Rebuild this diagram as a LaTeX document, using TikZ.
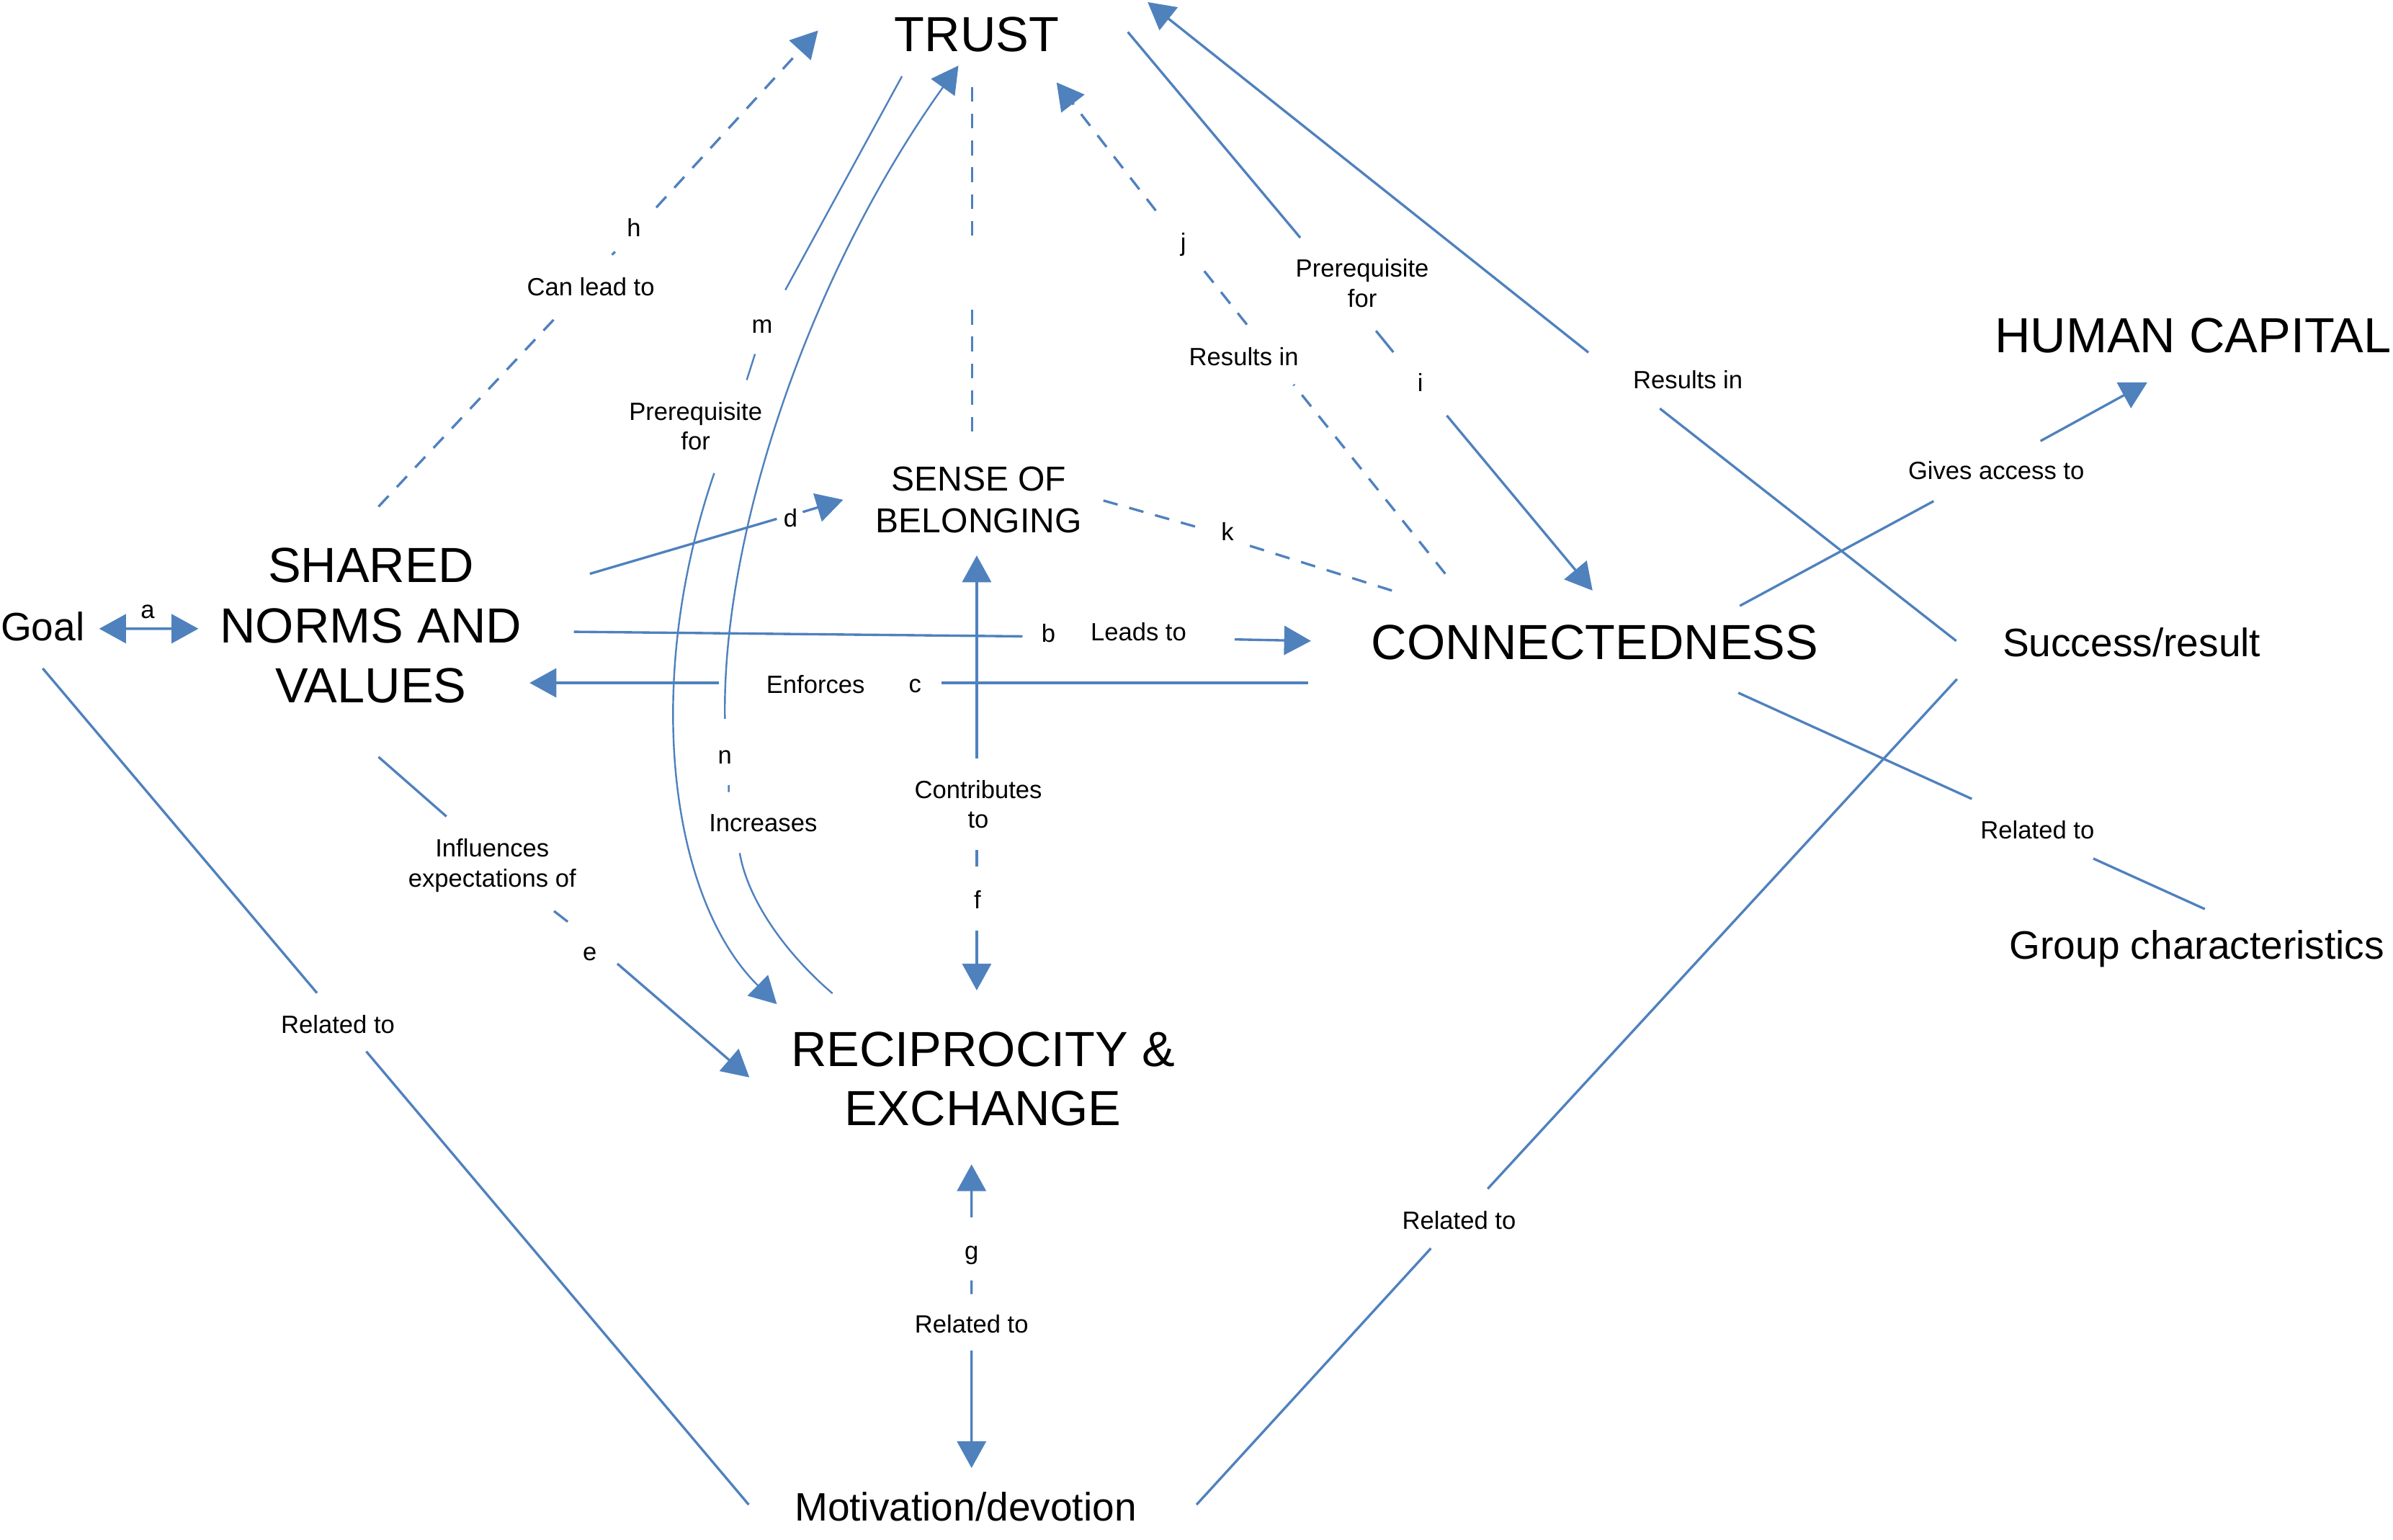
\documentclass[tikz,border=0pt]{standalone}
\usepackage{fontspec}
\setmainfont{Liberation Sans}
\usetikzlibrary{calc,arrows.meta}
\definecolor{linkblue}{RGB}{79,129,189}

\begin{document}
\begin{tikzpicture}[x=0.02cm, y=-0.02cm,
		>={Triangle[length=10pt,width=10.8pt]},
		link/.style={draw=linkblue, line width=0.9pt},
		thinlink/.style={draw=linkblue, line width=0.65pt},
		dashlink/.style={link, dash pattern=on 5.5pt off 4.5pt},
		big/.style={font=\fontsize{18.4}{22.5}\selectfont, align=center, inner sep=0pt},
		mid/.style={font=\fontsize{14.8}{17.8}\selectfont, inner sep=0pt, text depth=0pt},
		belong/.style={font=\fontsize{12.9}{15.7}\selectfont, align=center, inner sep=0pt},
		tag/.style={font=\fontsize{9.3}{11.2}\selectfont, inner sep=0pt, text depth=0pt},
		tags/.style={font=\fontsize{9.3}{11.2}\selectfont, align=center, inner sep=0pt}]
			%%%%% START %%%%%
			
			\useasboundingbox (0,0) rectangle (1568,1008.7);
			
			\node[big] (trust) at (640,22.4) {TRUST};
			\node[big] (snv) at (243,410) {SHARED\\NORMS AND\\VALUES};
			\node[big] (con) at (1045,421) {CONNECTEDNESS};
			\node[big, font=\fontsize{18.4}{21.9}\selectfont] (rec) at (644,707) {RECIPROCITY \&\\EXCHANGE};
			\node[big] (hc) at (1437,220) {HUMAN CAPITAL};
			\node[belong] (sob) at (641.3,327.6) {SENSE OF\\BELONGING};
			\node[mid] (goal) at (28,410.5) {Goal};
			\node[mid] (suc) at (1396.7,421) {Success/result};
			\node[mid] (grp) at (1439.5,619) {Group characteristics};
			\node[mid] (mot) at (632.7,987) {Motivation/devotion};
			
			% a, b, c, d
			\draw[link,<->] ($(goal)+(37,1.5)$) -- ($(snv)+(-113,2)$);
			\node[tag] (la) at (96.8,400.8) {a};
			
			\draw[link,->] ($(snv)+(133,4)$) -- (670,417) (809,419) -- ($(con)+(-186,-1)$);
			\node[tag] (lb) at (687,415) {b};
			\node[tag] (tb) at (746,414) {Leads to};
			
			\draw[link,->] ($(con)+(-188,26.5)$) -- (617,447.5) (471,447.5) -- ($(snv)+(104,37.5)$);
			\node[tag] (lc) at (599.6,449.4) {c};
			\node[tag] (tc) at (534.4,448.6) {Enforces};
			
			\draw[link,->] ($(snv)+(143.5,-34)$) -- (509,340) (526,335.5) -- ($(sob)+(-88.8,-0.1)$);
			\node[tag] (ld) at (518,339.5) {d};
			
			% e, f, g
			\draw[link,->] ($(snv)+(5,86)$) -- (292.5,535) (363,597) -- (372,604) (404.5,631.5) -- ($(rec)+(-153,-1)$);
			\node[tags] (te) at (322.5,567) {Influences\\expectations of};
			\node[tag] (le) at (386.5,625) {e};
			
			\draw[link,<-] ($(sob)+(-1.3,36.4)$) -- (640,497);
			\draw[link,->] (640,557) -- (640,568) (640,610) -- ($(rec)+(-4,-58)$);
			\node[tags] (tf) at (641,527) {Contributes\\to};
			\node[tag] (lf) at (640.5,589.5) {f};
			
			\draw[link,<-] ($(rec)+(-7.4,56)$) -- (636.6,797.7);
			\draw[link,->] (636.6,839) -- (636.6,848) (636.6,885) -- ($(mot)+(3.9,-25)$);
			\node[tag] (lg) at (636.6,821) {g};
			\node[tag] (tg) at (636.6,867.6) {Related to};
			
			% h, i, j, k
			\draw[dashlink,->] ($(snv)+(5,-78)$) -- (367,205) (401,167) -- (403,165) (430,136) -- ($(trust)+(-104,-2.4)$);
			\node[tag] (lh) at (415.3,149.3) {h};
			\node[tag] (th) at (387.1,187.8) {Can lead to};
			
			\draw[link,->] ($(trust)+(99,-1.4)$) -- (852,155.8) (901.6,216.8) -- (913,230.8) (948,272.3) -- ($(con)+(-1.5,-34)$);
			\node[tags] (ti) at (892.6,185.5) {Prerequisite\\for};
			\node[tag] (li) at (930.7,250.6) {i};
			
			\draw[dashlink,->] ($(con)+(-98,-45)$) -- (847.6,252) (817,212.7) -- (789,177.5) (757.3,138) -- ($(trust)+(52.3,31.6)$);
			\node[tag] (lj) at (775.4,158.5) {j};
			\node[tag] (tj) at (815,233.6) {Results in};
			
			\draw[dashlink] ($(sob)+(81.7,0.4)$) -- (790,347) (819,357.7) -- ($(con)+(-133,-34)$);
			\node[tag] (lk) at (804.3,348.2) {k};
			
			\draw[dashlink] ($(trust)+(-3,34.6)$) -- (637,157) (637,203) -- ($(sob)+(-4.3,-41.6)$);
			
			% m, n
			\draw[thinlink,->] ($(trust)+(-49,27.6)$) -- (514.6,190) (494.7,232) -- (489.3,249)
				(468,310) .. controls (420,450) and (440,590) .. ($(rec)+(-135,-49)$);
			\node[tag] (lm) at (499.4,213.8) {m};
			\node[tags] (tm) at (455.8,279.3) {Prerequisite\\for};
			
			\draw[thinlink,->] ($(rec)+(-98.5,-56)$) .. controls (515,625) and (490,590) .. (484.7,559)
				(477.5,514.6) -- (477.5,519)
				(475,471) .. controls (473,350) and (530,180) .. ($(trust)+(-12,20.6)$);
			\node[tag] (ln) at (475,496) {n};
			\node[tag] (tn) at (500,539.5) {Increases};
			
			% the outer links
			\draw[link] ($(goal)+(0,27.5)$) -- (207.7,650.7) (240,689) -- ($(mot)+(-142.1,-1)$);
			\node[tag] (tgm) at (221.4,671) {Related to};
			
			\draw[link] ($(mot)+(151.3,-1)$) -- (937.6,818) (974.8,779) -- ($(suc)+(-114.4,24)$);
			\node[tag] (tms) at (956,799.5) {Related to};
			
			\draw[link] ($(con)+(94,33)$) -- (1292,523.5) (1371.6,562.6) -- ($(grp)+(5.2,-23.3)$);
			\node[tag] (tcg) at (1335,543.7) {Related to};
			
			\draw[link,->] ($(con)+(95,-24)$) -- (1267,328.4) (1337,289) -- ($(hc)+(-30,30.6)$);
			\node[tag] (tch) at (1308,308) {Gives access to};
			
			\draw[link,->] ($(suc)+(-114.9,-1)$) -- (1087.6,267.7) (1040.8,231) -- ($(trust)+(112,-21)$);
			\node[tag] (tst) at (1106,248.7) {Results in};
			
			%%%%% END %%%%%
\end{tikzpicture}
\end{document}
